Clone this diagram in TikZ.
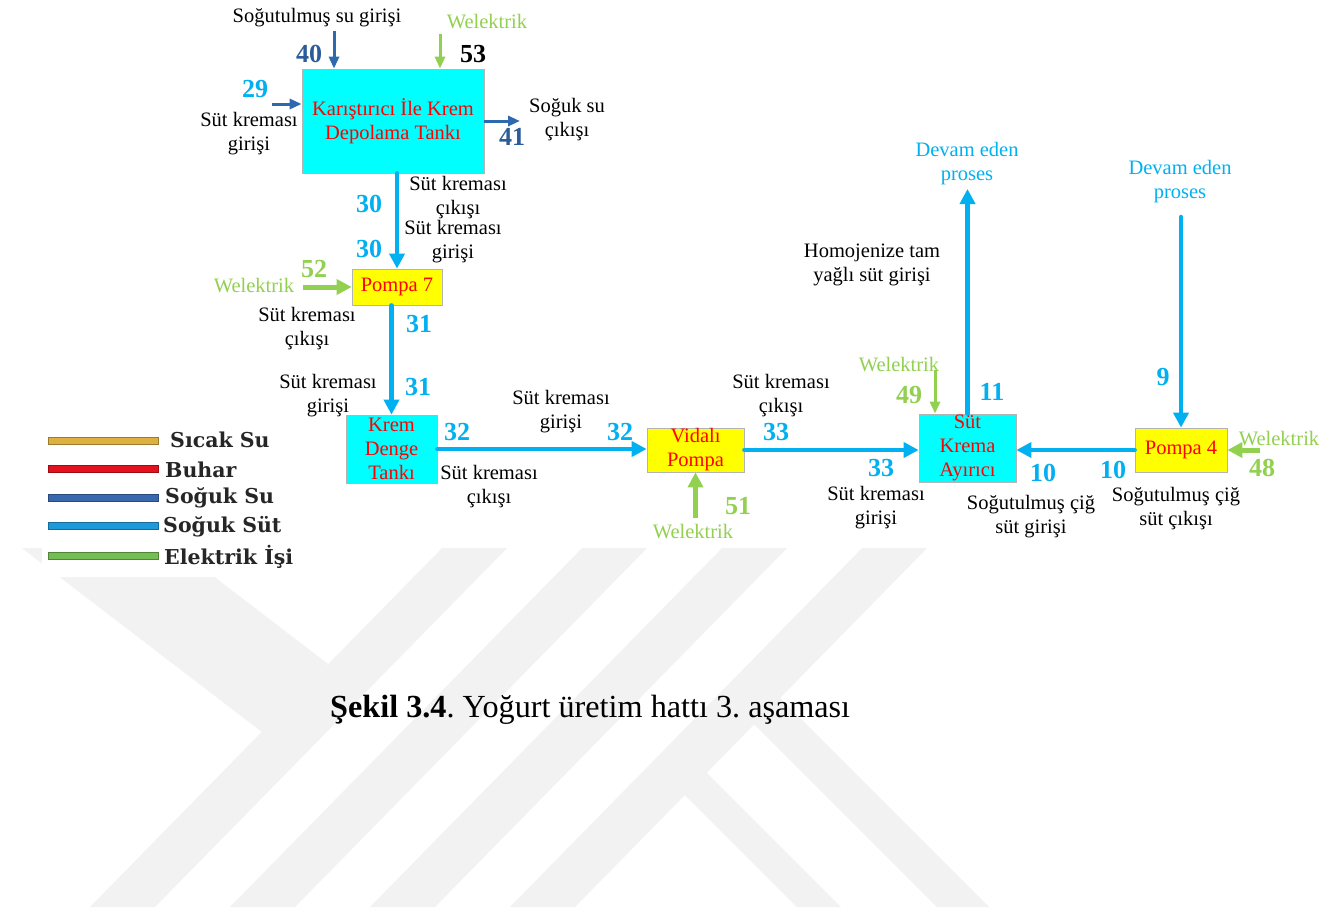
\documentclass[tikz,border=0pt]{standalone}
\usepackage{fontspec}
\setmainfont{Liberation Serif}
\newfontfamily\legendfont{DejaVu Serif}
\usetikzlibrary{arrows.meta}
\frenchspacing

\definecolor{milk}{HTML}{00B0F0}
\definecolor{water}{HTML}{2E69B0}
\definecolor{waterlbl}{HTML}{2A5C9A}
\definecolor{elec}{HTML}{92D050}
\definecolor{tankcyan}{HTML}{00FFFF}
\definecolor{pumpyellow}{HTML}{FFFF00}
\definecolor{boxline}{HTML}{B4B4B4}
\definecolor{wm}{HTML}{F2F2F2}
\definecolor{lgsicak}{HTML}{DDB040}
\definecolor{lgbuhar}{HTML}{E3101E}
\definecolor{lgsoguksu}{HTML}{3A68AE}
\definecolor{lgsoguksut}{HTML}{1E9ADB}
\definecolor{lgelektrik}{HTML}{72BE52}
\definecolor{lgtext}{HTML}{262626}

\newcommand\lblfont{\fontsize{20.5pt}{24pt}\selectfont}
\newcommand\numfont{\fontsize{26pt}{28pt}\selectfont\bfseries}
\newcommand\capfont{\fontsize{32.2pt}{35pt}\selectfont}
\newcommand\lgfont{\legendfont\fontsize{20.5pt}{24pt}\selectfont\bfseries}

\begin{document}
\begin{tikzpicture}[x=1pt,y=-1pt,
  unitbox/.style={draw=boxline, line width=0.8pt, inner sep=0pt, align=center,
    font=\lblfont, text=red},
  tankbox/.style={unitbox, fill=tankcyan},
  pumpbox/.style={unitbox, fill=pumpyellow},
  txt/.style={font=\lblfont, align=center, inner sep=0pt, yshift=-2pt},
  bluetxt/.style={txt, text=milk},
  greentxt/.style={txt, text=elec},
  num/.style={font=\numfont, inner sep=0pt},
  milknum/.style={num, text=milk},
  waternum/.style={num, text=waterlbl},
  elecnum/.style={num, text=elec},
  milkarrow/.style={draw=milk, line width=4.5pt, line cap=round,
    -{Triangle[length=15pt,width=15pt]}},
  waterarrow/.style={draw=water, line width=3pt,
    -{Triangle[length=12pt,width=10pt]}},
  electhin/.style={draw=elec, line width=3pt,
    -{Triangle[length=12pt,width=10pt]}},
  electhick/.style={draw=elec, line width=5pt,
    -{Triangle[length=15pt,width=15pt]}},
  lgtxt/.style={font=\lgfont, text=lgtext, anchor=west, inner sep=0pt}
]
\useasboundingbox (0,0) rectangle (1324,913);
\fill[white] (0,0) rectangle (1324,913);

% faint background emblem
\begin{scope}
  \clip (0,548) rectangle (1324,907);
  \foreach \k in {0,...,3}
    \fill[wm] ({450+140*\k},540) -- ({515+140*\k},540)
      -- ({155+140*\k},907) -- ({90+140*\k},907) -- cycle;
  \fill[wm] (10,539) -- (165,539) -- (328,664) -- (262,732) -- cycle;
  \fill[wm] (665,775) -- (687,753) -- (841,907) -- (797,907) -- cycle;
  \fill[wm] (734,704) -- (760,678) -- (989,907) -- (937,907) -- cycle;
\end{scope}

% legend
\fill[white] (42,422) rectangle (300,577);
\foreach \y/\c in {441/lgsicak, 469/lgbuhar, 498/lgsoguksu, 526/lgsoguksut, 556/lgelektrik}
  \draw[fill=\c, draw=\c!70!black, line width=0.6pt] (48,\y-3.5) rectangle (158,\y+3.5);
\node[lgtxt] (lgA) at (170,440) {Sıcak Su};
\node[lgtxt] (lgB) at (165,470) {Buhar};
\node[lgtxt] (lgC) at (165,498) {Soğuk Su};
\node[lgtxt] (lgD) at (163,527) {Soğuk Süt};
\node[lgtxt] (lgE) at (164,557) {Elektrik İşi};

% process units
\node[tankbox, minimum width=182pt, minimum height=104pt] (tank) at (393,121)
  {Karıştırıcı İle Krem\\Depolama Tankı};
\node[pumpbox, minimum width=90pt, minimum height=36pt] (p7) at (397,287) {Pompa 7};
\node[tankbox, minimum width=91pt, minimum height=68pt] (denge) at (391.5,449)
  {Krem\\Denge\\Tankı};
\node[pumpbox, minimum width=97pt, minimum height=44pt] (vidali) at (695.5,450)
  {Vidalı\\Pompa};
\node[tankbox, minimum width=97pt, minimum height=68pt] (ayirici) at (967.5,448)
  {Süt\\Krema\\Ayırıcı};
\node[pumpbox, minimum width=92pt, minimum height=44pt] (pompa4) at (1181,450) {Pompa 4};

% free ends of the streams
\coordinate (c40) at (334,31);
\coordinate (c53) at (440,34);
\coordinate (c29) at (272,104);
\coordinate (c41) at (520,121);
\coordinate (c52) at (303,287);
\coordinate (c51) at (695.5,518);
\coordinate (c49) at (935,370);
\coordinate (c11) at (967.5,189);
\coordinate (c9) at (1181,217);
\coordinate (c48) at (1260,450);

% streams
\draw[waterarrow] (c40) -- (c40 |- tank.north);
\draw[electhin] (c53) -- (c53 |- tank.north);
\draw[waterarrow] (c29) -- (c29 -| tank.west);
\draw[waterarrow] (c41 -| tank.east) -- (c41);
\draw[milkarrow] (tank.south -| p7.north) -- (p7.north);
\draw[electhick] (c52) -- (c52 -| p7.west);
\draw[milkarrow] (p7.south -| denge.north) -- (denge.north);
\draw[milkarrow] (denge.east) -- (denge.east -| vidali.west);
\draw[electhick] (c51) -- (vidali.south);
\draw[milkarrow] (vidali.east) -- (vidali.east -| ayirici.west);
\draw[electhin] (c49) -- (c49 |- ayirici.north);
\draw[milkarrow] (ayirici.north) -- (c11);
\draw[milkarrow] (c9) -- (pompa4.north);
\draw[milkarrow] (pompa4.west) -- (pompa4.west -| ayirici.east);
\draw[electhick] (c48) -- (pompa4.east);

% stream labels
\node[txt] (t40) at (317,16) {Soğutulmuş su girişi};
\node[greentxt] (t53) at (487,20) {Welektrik};
\node[waternum] (n40) at (309,54) {40};
\node[num] (n53) at (473,54) {53};
\node[milknum] (n29) at (255,89) {29};
\node[txt] (t29) at (249,132) {Süt kreması\\girişi};
\node[txt] (t41) at (567,118) {Soğuk su\\çıkışı};
\node[waternum] (n41) at (512,137) {41};
\node[txt] (t30a) at (458,196) {Süt kreması\\çıkışı};
\node[milknum] (n30a) at (369,204) {30};
\node[milknum] (n30b) at (369,249) {30};
\node[txt] (t30b) at (453,240) {Süt kreması\\girişi};
\node[greentxt] (t52) at (254,284) {Welektrik};
\node[elecnum] (n52) at (314,269) {52};
\node[txt] (t31a) at (307,327) {Süt kreması\\çıkışı};
\node[milknum] (n31a) at (419,324) {31};
\node[milknum] (n31b) at (418,387) {31};
\node[txt] (t31b) at (328,394) {Süt kreması\\girişi};
\node[milknum] (n32a) at (457,432) {32};
\node[milknum] (n32b) at (620,432) {32};
\node[txt] (t32b) at (561,410) {Süt kreması\\girişi};
\node[txt] (t32a) at (489,485) {Süt kreması\\çıkışı};
\node[elecnum] (n51) at (738,506) {51};
\node[greentxt] (t51) at (693,530) {Welektrik};
\node[txt] (t33a) at (781,394) {Süt kreması\\çıkışı};
\node[milknum] (n33a) at (776,432) {33};
\node[milknum] (n33b) at (881,468) {33};
\node[txt] (t33b) at (876,506) {Süt kreması\\girişi};
\node[greentxt] (t49) at (899,363) {Welektrik};
\node[elecnum] (n49) at (909,395) {49};
\node[milknum] (n11) at (992,392) {11};
\node[bluetxt] (t11) at (967,162) {Devam eden\\proses};
\node[txt] (thom) at (872,263) {Homojenize tam\\yağlı süt girişi};
\node[bluetxt] (t9) at (1180,180) {Devam eden\\proses};
\node[milknum] (n9) at (1163,377) {9};
\node[milknum] (n10a) at (1043,473) {10};
\node[milknum] (n10b) at (1113,470) {10};
\node[txt] (t10a) at (1031,515) {Soğutulmuş çiğ\\süt girişi};
\node[txt] (t10b) at (1176,507) {Soğutulmuş çiğ\\süt çıkışı};
\node[greentxt] (t48) at (1279,437) {Welektrik};
\node[elecnum] (n48) at (1262,468) {48};

% caption
\node[font=\capfont, anchor=west, inner sep=0pt] (cap) at (330,710)
  {\textbf{Şekil 3.4}. Yoğurt üretim hattı 3. aşaması};
\end{tikzpicture}
\end{document}
